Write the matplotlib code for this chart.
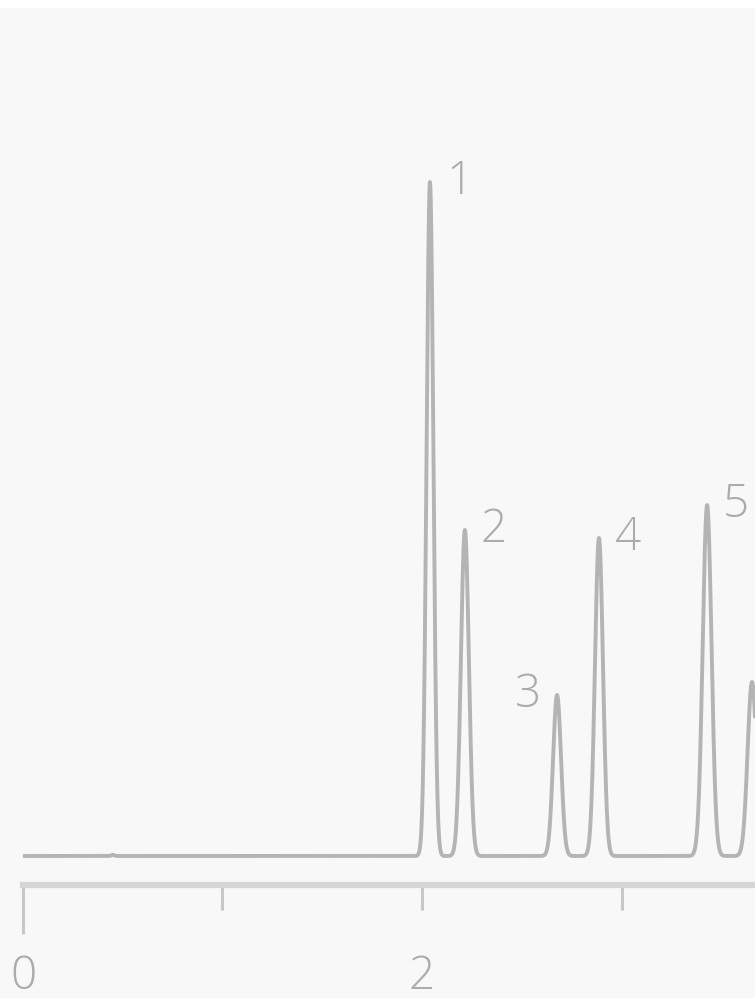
import numpy as np
import matplotlib
matplotlib.use("Agg")
from matplotlib import pyplot


# peaks of the chromatogram: retention time (min), height, width (sigma)
peak_names = ["", "1", "2", "3", "4", "5", ""]
peak_times = [0.45, 2.04, 2.215, 2.677, 2.887, 3.429, 3.654]
peak_heights = [1.2, 674, 326, 161, 318, 351, 174]
peak_sigmas = [0.008, 0.017, 0.02, 0.02, 0.02, 0.022, 0.022]

tick_values = [0, 1, 2, 3]
tick_labels = ["0", "", "2", ""]

LINE = "#b4b4b4"
TEXT = "#ababab"
AXIS = "#d6d6d6"
TICK = "#c8c8c8"


def trace(t):
    y = np.zeros_like(t)
    for t0, h, s in zip(peak_times, peak_heights, peak_sigmas):
        y += h * np.exp(-0.5 * ((t - t0) / s) ** 2)
    return y


def main():
    pyplot.rcParams["font.family"] = ["Open Sans", "DejaVu Sans"]
    fig = pyplot.figure(figsize=(7.55, 9.98), dpi=100, facecolor="white")
    ax = fig.add_axes([0, 0, 1, 990 / 998])
    ax.set_facecolor("#f8f8f8")

    xmax = 3.669
    t = np.linspace(0, xmax, 6000)
    ax.plot(t, trace(t), color=LINE, lw=2.8, solid_capstyle="butt")

    # peak labels, "3" sits on the left of its peak
    for name, t0, h in zip(peak_names, peak_times, peak_heights):
        if not name:
            continue
        dx = -21 if name == "3" else 21
        ax.annotate(name, (t0, h), xytext=(dx, 0), textcoords="offset points",
                    ha="center", va="center", fontsize=33, color=TEXT,
                    fontweight="light")

    ax.set_xlim(-0.115, xmax)
    ax.set_ylim(-142, 848)

    for side in ["left", "right", "top"]:
        ax.spines[side].set_visible(False)
    sp = ax.spines["bottom"]
    sp.set_position(("data", -29))
    sp.set_color(AXIS)
    sp.set_linewidth(4.5)
    sp.set_bounds(0, xmax)

    ax.set_yticks([])
    ax.set_xticks(tick_values)
    ax.set_xticklabels(tick_labels)
    ax.tick_params(axis="x", direction="out", length=18, width=2.2,
                   color=TICK, labelcolor=TEXT, labelsize=33, pad=32)
    for lab in ax.get_xticklabels():
        lab.set_fontweight("light")
    ax.xaxis.get_major_ticks()[0].tick1line.set_markersize(35)

    pyplot.savefig("out.png", dpi=100, facecolor=fig.get_facecolor())


main()
